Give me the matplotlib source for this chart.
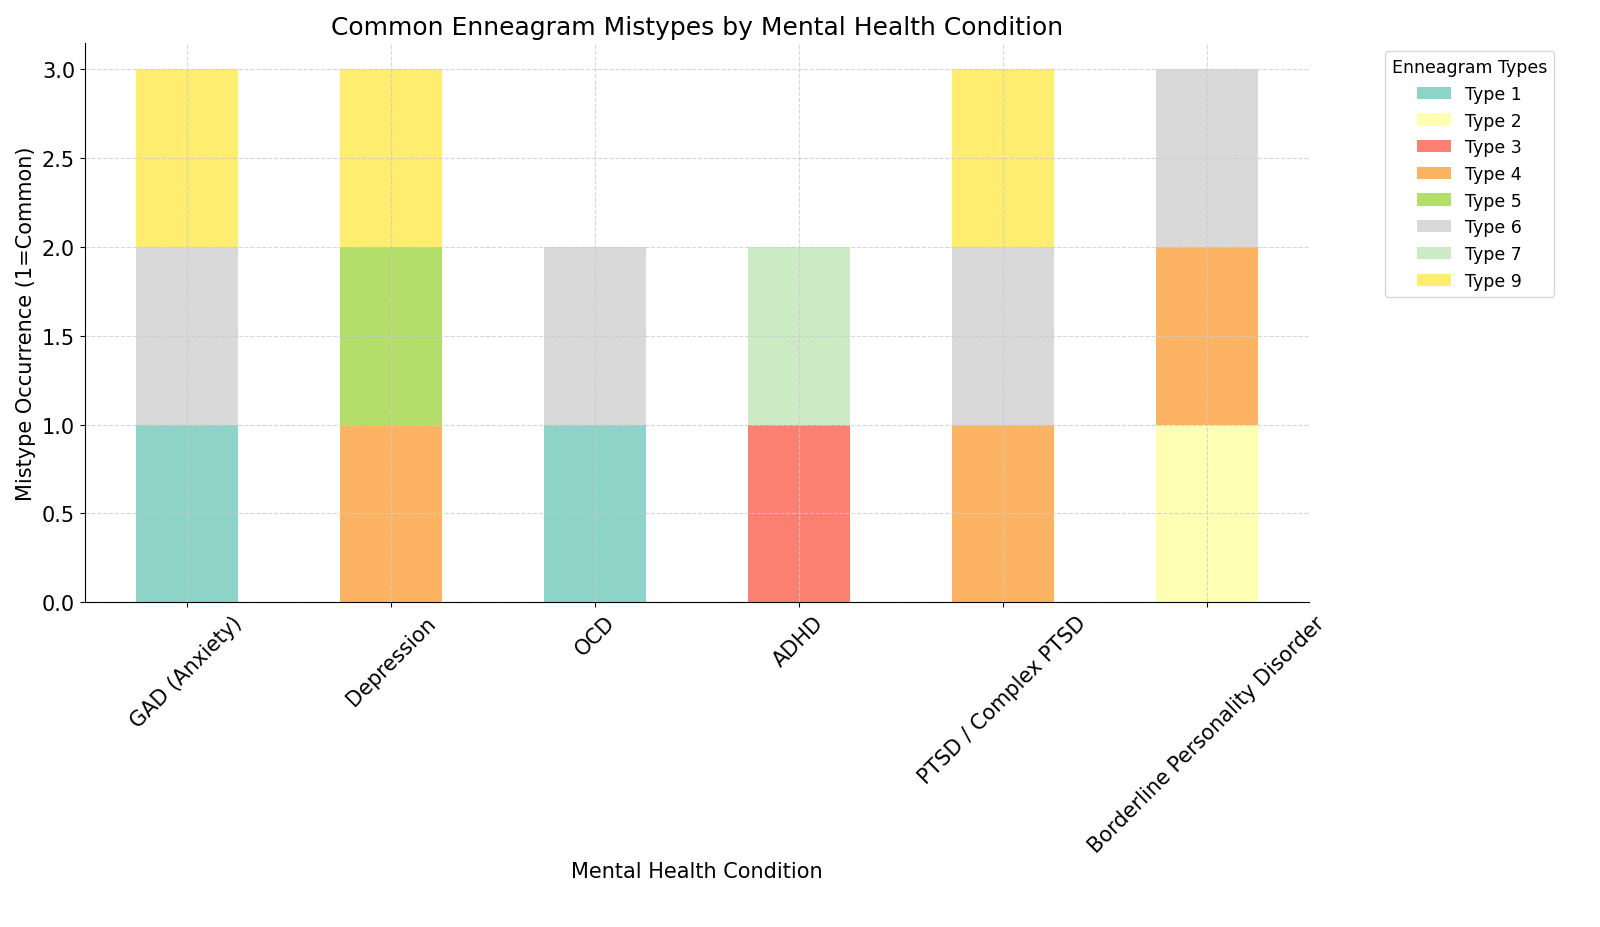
import matplotlib
matplotlib.use("Agg")
import matplotlib.pyplot as plt
import numpy as np

conditions = ["GAD (Anxiety)", "Depression", "OCD", "ADHD",
              "PTSD / Complex PTSD", "Borderline Personality Disorder"]
types = ["Type 1", "Type 2", "Type 3", "Type 4", "Type 5", "Type 6", "Type 7", "Type 9"]
colors = ["#8dd3c7", "#ffffb3", "#fb8072", "#fdb462", "#b3de69", "#d9d9d9", "#ccebc5", "#ffed6f"]

# rows = conditions, cols = types (1 = common mistype)
occurrence = np.array([
    [1, 0, 0, 0, 0, 1, 0, 1],
    [0, 0, 0, 1, 1, 0, 0, 1],
    [1, 0, 0, 0, 0, 1, 0, 0],
    [0, 0, 1, 0, 0, 0, 1, 0],
    [0, 0, 0, 1, 0, 1, 0, 1],
    [0, 1, 0, 1, 0, 1, 0, 0],
])

fig = plt.figure(figsize=(16, 9.28), dpi=100)
ax = fig.add_axes([0.053, 0.35, 0.765, 0.603])

x = np.arange(len(conditions))
bottom = np.zeros(len(conditions))
for j, (t, c) in enumerate(zip(types, colors)):
    ax.bar(x, occurrence[:, j], 0.5, bottom=bottom, color=c, label=t)
    bottom += occurrence[:, j]

ax.set_xticks(x)
ax.set_xticklabels(conditions, rotation=45, fontsize=15)
ax.tick_params(axis="y", labelsize=15)
ax.set_xlim(-0.5, 5.5)
ax.set_ylim(0, 3.15)
ax.set_yticks(np.arange(0, 3.01, 0.5))
ax.set_axisbelow(False)
ax.grid(True, linestyle="--", color="#cccccc", alpha=0.8)
ax.spines["top"].set_visible(False)
ax.spines["right"].set_visible(False)
ax.set_title("Common Enneagram Mistypes by Mental Health Condition", fontsize=18)
ax.set_xlabel("Mental Health Condition", fontsize=15)
ax.set_ylabel("Mistype Occurrence (1=Common)", fontsize=15)
ax.legend(title="Enneagram Types", loc="upper left", bbox_to_anchor=(1.055, 1.0),
          fontsize=12.5, title_fontsize=12.5)

fig.savefig("out.png", dpi=100)
